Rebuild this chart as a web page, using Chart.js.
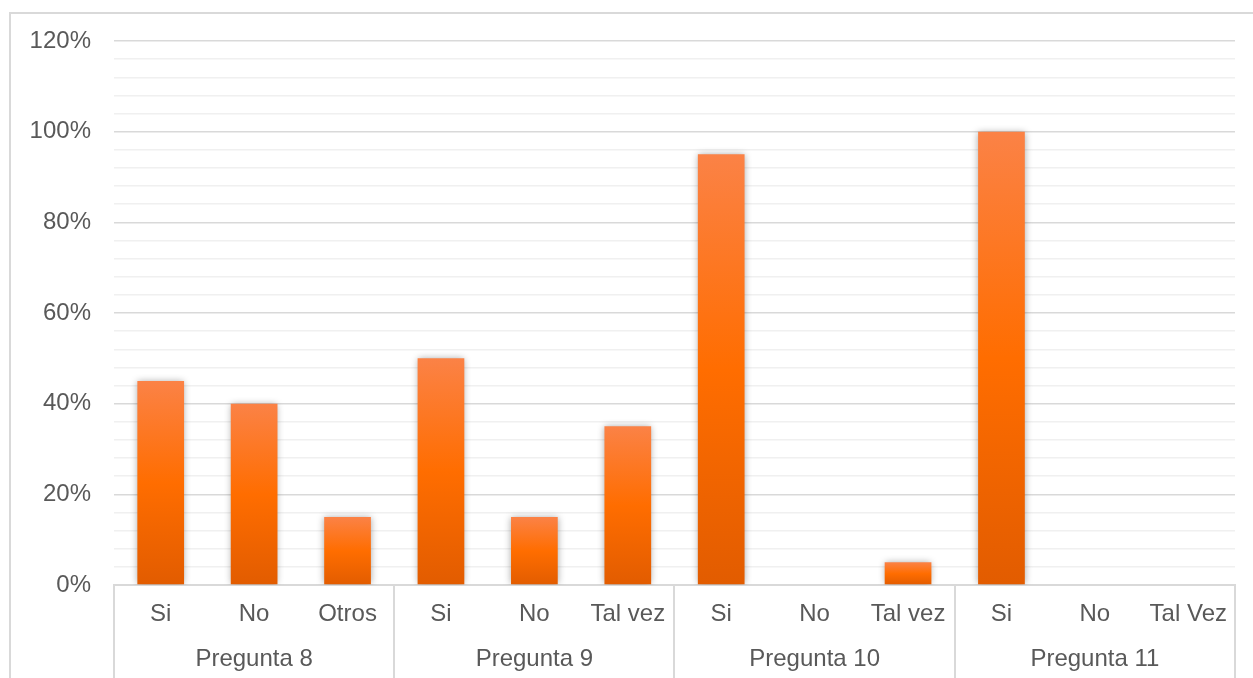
<!DOCTYPE html>
<html lang="es">
<head>
<meta charset="utf-8">
<title>Preguntas 8 a 11</title>
<script src="https://cdn.jsdelivr.net/npm/chart.js@4/dist/chart.umd.min.js"></script>
<style>
  html, body { margin: 0; padding: 0; background: #ffffff; overflow: hidden; }
  canvas { display: block; }
</style>
</head>
<body>
<canvas id="chart" width="1253" height="678"></canvas>
<script>
// Answer options, grouped by question
const groups = ['Pregunta 8', 'Pregunta 9', 'Pregunta 10', 'Pregunta 11'];
const answers = ['Si', 'No', 'Otros', 'Si', 'No', 'Tal vez', 'Si', 'No', 'Tal vez', 'Si', 'No', 'Tal Vez'];
// Share of respondents per answer (%)
const values = [45, 40, 15, 50, 15, 35, 95, 0, 5, 100, 0, 0];
// Axis ticks (%)
const yMax = 120;
const yMinorStep = 4;
const yMajorStep = 20;

const textColor = '#595959';
const fontFamily = '"Liberation Sans", Arial, sans-serif';
const fontSize = 24;
const perGroup = answers.length / groups.length;

// Vertical orange gradient per bar, lighter at the top and darker at the base
function barFill(ctx) {
  const chart = ctx.chart;
  const { chartArea, scales } = chart;
  if (!chartArea || !scales.y) return '#ff6c00';
  const top = scales.y.getPixelForValue(ctx.raw);
  const base = scales.y.getPixelForValue(0);
  if (base - top < 1) return '#ff6c00';
  const g = chart.ctx.createLinearGradient(0, top, 0, base);
  g.addColorStop(0, '#fb8246');
  g.addColorStop(0.5, '#ff6d00');
  g.addColorStop(1, '#e25c00');
  return g;
}

// Light frame along the top and left edges of the chart box
const chartFrame = {
  id: 'chartFrame',
  beforeDraw(chart) {
    const c = chart.ctx;
    c.save();
    c.strokeStyle = '#d9d9d9';
    c.lineWidth = 2;
    c.beginPath();
    c.moveTo(chart.width, 13);
    c.lineTo(10, 13);
    c.lineTo(10, chart.height);
    c.stroke();
    c.restore();
  }
};

// Soft shadow behind the bars
const barShadow = {
  id: 'barShadow',
  beforeDatasetsDraw(chart) {
    const c = chart.ctx;
    c.save();
    c.shadowColor = 'rgba(0,0,0,0.35)';
    c.shadowBlur = 7;
    c.shadowOffsetX = 0;
    c.shadowOffsetY = 0;
  },
  afterDatasetsDraw(chart) {
    chart.ctx.restore();
  }
};

// Separators between question groups below the plot
const groupSeparators = {
  id: 'groupSeparators',
  afterDraw(chart) {
    const x = chart.scales.x;
    const c = chart.ctx;
    const half = (x.getPixelForValue(1) - x.getPixelForValue(0)) / 2;
    c.save();
    c.strokeStyle = '#d9d9d9';
    c.lineWidth = 2;
    for (let gi = 0; gi <= groups.length; gi++) {
      const idx = Math.min(gi * perGroup, answers.length - 1);
      const px = gi * perGroup < answers.length
        ? x.getPixelForValue(idx) - half
        : x.getPixelForValue(idx) + half;
      c.beginPath();
      c.moveTo(Math.round(px), chart.chartArea.bottom);
      c.lineTo(Math.round(px), chart.height);
      c.stroke();
    }
    c.restore();
  }
};

new Chart(document.getElementById('chart'), {
  type: 'bar',
  data: {
    labels: answers,
    datasets: [{
      data: values,
      backgroundColor: barFill,
      borderWidth: 0,
      barPercentage: 0.5,
      categoryPercentage: 1.0,
      xAxisID: 'x',
      yAxisID: 'y'
    }]
  },
  options: {
    responsive: false,
    animation: false,
    events: [],
    layout: { padding: { top: 41, right: 18, bottom: 0, left: 0 } },
    plugins: {
      legend: { display: false },
      tooltip: { enabled: false },
      title: { display: false }
    },
    scales: {
      y: {
        min: 0,
        max: yMax,
        afterFit(scale) { scale.width = 114; },
        ticks: {
          stepSize: yMinorStep,
          autoSkip: false,
          padding: 23,
          color: textColor,
          font: { family: fontFamily, size: fontSize },
          callback(v) { return v % yMajorStep === 0 ? v + '%' : ''; }
        },
        grid: {
          drawTicks: false,
          lineWidth: 1.5,
          color(ctx) {
            const v = ctx.tick ? ctx.tick.value : 0;
            return v % yMajorStep === 0 ? '#d9d9d9' : '#f0f0f0';
          }
        },
        border: { display: false }
      },
      x: {
        type: 'category',
        position: 'bottom',
        afterFit(scale) { scale.height = 48; },
        ticks: {
          padding: 15,
          autoSkip: false,
          maxRotation: 0,
          color: textColor,
          font: { family: fontFamily, size: fontSize }
        },
        grid: { display: false, drawTicks: false },
        border: { display: true, color: '#d9d9d9', width: 2 }
      },
      x2: {
        type: 'category',
        position: 'bottom',
        labels: groups,
        afterFit(scale) { scale.height = 45; },
        ticks: {
          padding: 12,
          autoSkip: false,
          maxRotation: 0,
          color: textColor,
          font: { family: fontFamily, size: fontSize }
        },
        grid: { display: false, drawTicks: false },
        border: { display: false }
      }
    }
  },
  plugins: [chartFrame, barShadow, groupSeparators]
});
</script>
</body>
</html>
